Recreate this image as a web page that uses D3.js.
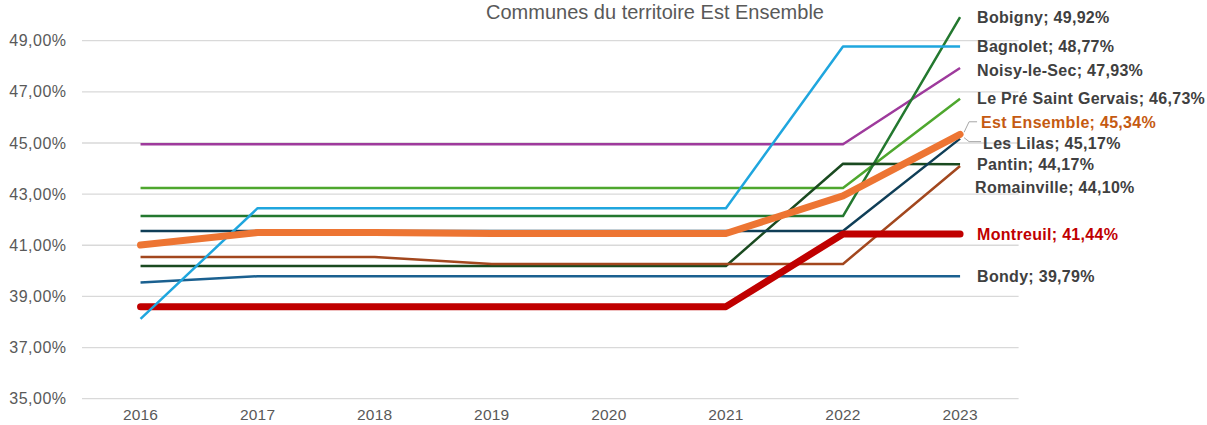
<!DOCTYPE html>
<html>
<head>
<meta charset="utf-8">
<script src="https://cdn.jsdelivr.net/npm/d3@7"></script>
<style>
  html, body { margin: 0; padding: 0; background: #ffffff; }
  svg { display: block; font-family: "Liberation Sans", Arial, sans-serif; }
</style>
</head>
<body>
<svg id="chart" width="1207" height="425"></svg>
<script>
// ---- data ----
const title = "Communes du territoire Est Ensemble";
const years = ["2016", "2017", "2018", "2019", "2020", "2021", "2022", "2023"];
const yTicks = [35, 37, 39, 41, 43, 45, 47, 49];

const noisy       = [44.95, 44.95, 44.95, 44.95, 44.95, 44.95, 44.95, 47.93];
const lePre       = [43.24, 43.24, 43.24, 43.24, 43.24, 43.24, 43.24, 46.73];
const bobigny     = [42.14, 42.14, 42.14, 42.14, 42.14, 42.14, 42.14, 49.92];
const pantin      = [40.19, 40.19, 40.19, 40.19, 40.19, 40.19, 44.19, 44.17];
const lesLilas    = [41.56, 41.56, 41.56, 41.56, 41.56, 41.56, 41.56, 45.17];
const romainville = [40.54, 40.54, 40.54, 40.27, 40.27, 40.27, 40.27, 44.10];
const bondy       = [39.54, 39.79, 39.79, 39.79, 39.79, 39.79, 39.79, 39.79];
const montreuil   = [38.60, 38.60, 38.60, 38.60, 38.60, 38.60, 41.44, 41.44];
const bagnolet    = [38.12, 42.45, 42.45, 42.45, 42.45, 42.45, 48.77, 48.77];
const estEnsemble = [41.01, 41.50, 41.50, 41.46, 41.46, 41.46, 42.93, 45.34];

const names = ["Noisy-le-Sec", "Le Pré Saint Gervais", "Bobigny", "Pantin", "Les Lilas",
               "Romainville", "Bondy", "Montreuil", "Bagnolet", "Est Ensemble"];
const seriesValues = [noisy, lePre, bobigny, pantin, lesLilas, romainville, bondy, montreuil, bagnolet, estEnsemble];

// ---- styles ----
const colors = ["#9e3a9c", "#4ea72e", "#23782f", "#1a4a20", "#0f3e57",
                "#a2471e", "#1a6090", "#c00000", "#1fa6de", "#ed7533"];
const widths = [2.5, 2.5, 2.5, 2.5, 2.5, 2.5, 2.5, 7, 2.5, 7];
const labelColors = ["#404040", "#404040", "#404040", "#404040", "#404040",
                     "#404040", "#404040", "#c00000", "#404040", "#c55a11"];
// label nudges (layout only)
const labelDx = [0, 0, 0, 0, 6, -2, 0, 0, 0, 4];
const labelDy = [2, 0, 0, 0, 5, 21, 0, 0, 0, -12];

const fmt = v => v.toFixed(2).replace(".", ",") + "%";

const svg = d3.select("#chart");

const x = d3.scaleBand().domain(years).range([82, 1018.6]);
const y = d3.scaleLinear().domain([35, 49]).range([398.7, 40.7]);

// gridlines
svg.append("g").selectAll("line").data(yTicks).join("line")
  .attr("x1", 82).attr("x2", 1018.6)
  .attr("y1", d => y(d)).attr("y2", d => y(d))
  .attr("stroke", "#d9d9d9").attr("stroke-width", 1.3);

// y axis labels
const yAxis = d3.axisLeft(y).tickValues(yTicks).tickSize(0).tickPadding(0)
  .tickFormat(d => fmt(d));
const yg = svg.append("g").attr("transform", "translate(66.5,0)").call(yAxis);
yg.select(".domain").remove();
yg.selectAll("text").attr("fill", "#595959").style("font-size", "16px")
  .style("letter-spacing", "0.5px")
  .style("font-family", "'Liberation Sans', Arial, sans-serif");

// x axis labels
const xAxis = d3.axisBottom(x).tickSize(0).tickPadding(0);
const xg = svg.append("g").attr("transform", "translate(0,409)").call(xAxis);
xg.select(".domain").remove();
xg.selectAll("text").attr("fill", "#595959").style("font-size", "15.5px")
  .style("letter-spacing", "0.2px")
  .style("font-family", "'Liberation Sans', Arial, sans-serif");

// title
svg.append("text").attr("x", 655).attr("y", 19).attr("text-anchor", "middle")
  .attr("fill", "#595959").style("font-size", "20px").text(title);

// lines
const line = d3.line()
  .x((d, i) => x(years[i]) + x.bandwidth() / 2)
  .y(d => y(d));

svg.append("g").selectAll("path").data(seriesValues).join("path")
  .attr("d", d => line(d))
  .attr("fill", "none")
  .attr("stroke", (d, i) => colors[i])
  .attr("stroke-width", (d, i) => widths[i])
  .attr("stroke-linejoin", "round")
  .attr("stroke-linecap", (d, i) => widths[i] > 4 ? "round" : "butt");

// leader lines for Est Ensemble and Les Lilas
const lastX = x(years[years.length - 1]) + x.bandwidth() / 2;
const estY = y(estEnsemble[7]);
const lilY = y(lesLilas[7]);
svg.append("polyline")
  .attr("points", [[lastX + 4, estY - 2], [lastX + 9, estY - 12.5], [lastX + 17, estY - 12.5]].join(" "))
  .attr("fill", "none").attr("stroke", "#a6a6a6").attr("stroke-width", 1);
svg.append("polyline")
  .attr("points", [[lastX + 4, lilY - 1], [lastX + 9, lilY + 3], [lastX + 21, lilY + 3]].join(" "))
  .attr("fill", "none").attr("stroke", "#a6a6a6").attr("stroke-width", 1);

// end labels
svg.append("g").selectAll("text").data(seriesValues).join("text")
  .attr("x", (d, i) => lastX + 17 + labelDx[i])
  .attr("y", (d, i) => y(d[7]) + labelDy[i])
  .attr("dy", "0.35em")
  .attr("fill", (d, i) => labelColors[i])
  .style("font-size", "16px").style("font-weight", "bold")
  .style("letter-spacing", "0.3px")
  .text((d, i) => names[i] + "; " + fmt(d[7]));
</script>
</body>
</html>
